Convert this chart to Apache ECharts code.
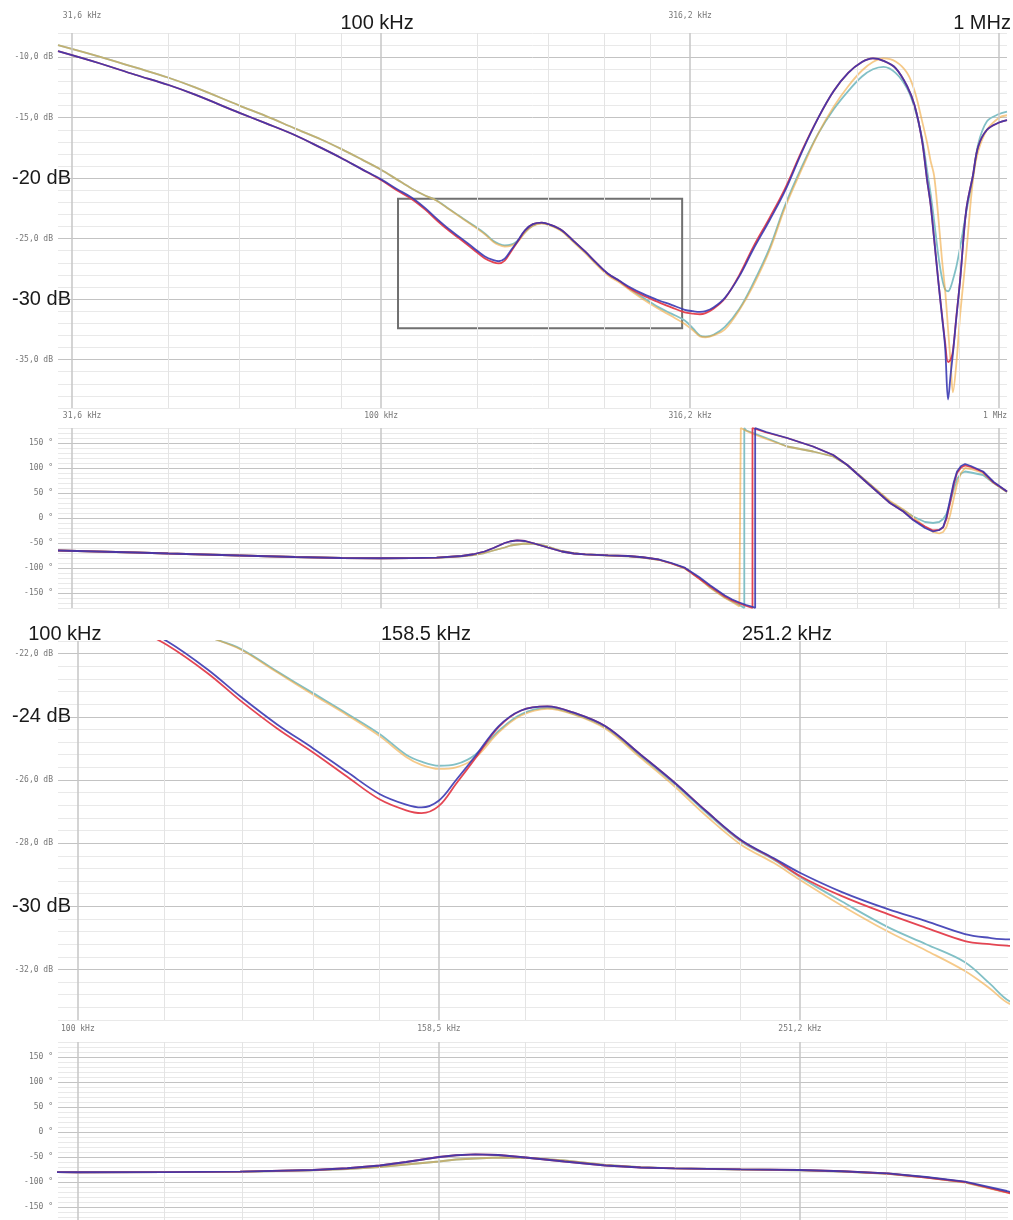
<!DOCTYPE html>
<html><head><meta charset="utf-8">
<script src="https://cdn.jsdelivr.net/npm/echarts@6/dist/echarts.min.js"></script>
<style>html,body{margin:0;padding:0;background:#fff}#c{width:1013px;height:1220px}</style>
</head><body><div id="c"></div>
<script>
// ---------- DATA (frequencies in kHz) ----------
const magFreq = [30, 35, 40, 45.3, 50, 59, 65, 72.6, 80, 86.3, 93, 100, 106, 112, 118, 123, 129, 135, 141, 147,
  152, 155, 158.5, 162, 166, 171, 176, 182, 188, 196, 205, 214, 223, 233, 243, 251, 265, 281, 295, 310,
  320, 328, 335, 345, 360, 380, 400, 425, 450, 480, 510, 540, 570, 600, 625, 650, 680, 710, 730, 750,
  765, 775, 785, 797, 808, 818, 827, 835, 842, 853, 865, 885, 907, 925, 956, 1000, 1030];

const magBlue = [-9.5, -10.5, -11.45, -12.3, -13.1, -14.6, -15.45, -16.45, -17.5, -18.35, -19.25, -20.1, -20.9, -21.6, -22.5, -23.35, -24.25, -25.0, -25.75, -26.45,
  -26.78, -26.87, -26.65, -26.0, -25.25, -24.3, -23.8, -23.67, -23.86, -24.3, -25.2, -26.08, -27.0, -27.9, -28.48, -28.93, -29.55, -30.09, -30.47, -30.88,
  -31.0, -31.05, -31.0, -30.7, -29.9, -28.1, -25.9, -23.5, -21.1, -17.8, -15.0, -12.8, -11.3, -10.4, -10.1, -10.3, -10.9, -12.4, -14.0, -16.8,
  -20.2, -22.2, -25.0, -28.4, -31.3, -34.0, -38.3, -36.2, -34.5, -31.5, -28.4, -22.6, -19.8, -17.4, -16.0, -15.4, -15.2];

const magRed = [-9.5, -10.5, -11.45, -12.3, -13.1, -14.6, -15.45, -16.45, -17.5, -18.35, -19.25, -20.15, -21.0, -21.72, -22.62, -23.48, -24.38, -25.13, -25.9, -26.62,
  -26.96, -27.05, -26.82, -26.12, -25.32, -24.33, -23.8, -23.67, -23.86, -24.3, -25.2, -26.08, -27.0, -27.92, -28.5, -29.03, -29.68, -30.25, -30.68, -31.1,
  -31.2, -31.25, -31.15, -30.8, -29.95, -28.0, -25.7, -23.3, -20.9, -17.7, -15.0, -12.8, -11.3, -10.4, -10.1, -10.3, -10.9, -12.4, -14.0, -16.8,
  -20.2, -22.2, -25.0, -28.4, -31.2, -33.6, -35.2, -35.0, -34.3, -31.4, -28.4, -22.6, -19.8, -17.4, -16.0, -15.4, -15.2];

const magCyan = [-9.0, -9.95, -10.85, -11.7, -12.5, -14.0, -14.85, -15.9, -16.8, -17.6, -18.45, -19.3, -20.1, -20.85, -21.45, -21.84, -22.57, -23.25, -23.9, -24.55,
  -25.2, -25.42, -25.55, -25.5, -25.2, -24.45, -23.92, -23.72, -23.9, -24.34, -25.25, -26.12, -27.05, -27.95, -28.53, -29.06, -29.85, -30.66, -31.2, -31.77,
  -32.45, -33.0, -33.1, -32.95, -32.3, -30.8, -28.7, -25.8, -22.3, -19.0, -16.3, -14.3, -12.8, -11.6, -11.0, -10.8, -11.3, -12.6, -14.2, -16.6,
  -19.4, -21.3, -23.5, -26.3, -28.2, -29.2, -29.35, -29.0, -28.4, -27.3, -25.7, -22.8, -20.0, -17.2, -15.3, -14.7, -14.5];

const magOrange = [-9.0, -9.95, -10.85, -11.7, -12.5, -14.0, -14.85, -15.9, -16.8, -17.6, -18.45, -19.3, -20.1, -20.85, -21.45, -21.86, -22.6, -23.3, -23.95, -24.62,
  -25.27, -25.52, -25.65, -25.6, -25.3, -24.5, -23.96, -23.75, -23.92, -24.38, -25.3, -26.2, -27.15, -28.05, -28.63, -29.15, -29.98, -30.8, -31.4, -32.05,
  -32.6, -33.08, -33.15, -33.0, -32.5, -30.9, -28.9, -26.0, -22.5, -19.2, -16.3, -14.1, -12.4, -11.1, -10.4, -10.1, -10.35, -11.3, -12.8, -15.2,
  -17.1, -18.6, -19.8, -23.1, -26.6, -29.3, -32.5, -35.3, -37.7, -35.3, -31.3, -26.2, -20.2, -17.8, -16.0, -15.0, -14.8];

const phaseFreq = [30, 40, 45.3, 59, 72.6, 86.3, 100, 112, 123, 135, 141, 147, 152, 158.5, 162, 166, 171, 177, 186, 196,
  205, 214, 233, 251, 265, 281, 295, 310, 327, 341, 360, 370, 380, 390, 400, 420, 454, 500, 539, 568,
  612, 666, 700, 726, 759, 782, 800, 812, 822, 833, 845, 855, 868, 881, 900, 942, 980, 1030];

const phaseBlue = [-65, -69, -71, -75, -78, -80, -80.5, -80.3, -79.3, -76, -72.5, -67, -60, -50, -46.5, -44.8, -46, -51, -59, -67,
  -71, -72.7, -74.7, -76, -78.5, -82.7, -90, -99.3, -118, -135, -155, -163, -169, -174, -178, 172, 160, 143, 126, 106,
  70, 30, 13, -4, -20, -27, -24, -18, 2, 36, 72, 93, 104, 108, 104, 93, 72, 53];

const phaseRed = [-65, -69, -71, -75, -78, -80, -80.5, -80.3, -79.3, -76, -72.5, -67, -60, -50, -46.5, -44.8, -46, -51, -59, -67,
  -71, -72.7, -74.7, -76, -78.5, -83, -91, -100, -121, -137, -157, -165, -171, -176, 178, 171, 160, 143, 126, 106,
  70, 30, 13, -3, -17, -25, -24, -19, -2, 30, 68, 90, 101, 105, 102, 92, 71, 53];

const phaseCyan = [-65, -69, -71, -75, -78, -80, -80.5, -80.3, -79.5, -76.5, -74, -70, -65, -59, -55, -53, -51, -51.5, -57, -66,
  -70.5, -72.7, -75, -76.5, -79, -83.5, -90.5, -100.5, -120, -139, -159, -167, -174, 175, 170, 160, 143, 133, 123, 106,
  72, 32, 16, 3, -8, -10, -8, -2, 8, 30, 58, 78, 89, 93, 91, 86, 70, 52];

const phaseOrange = [-65, -69, -71, -75, -78, -80, -80.5, -80.3, -79.5, -76.5, -74, -70, -65, -59, -55, -53, -51, -51.5, -57, -66,
  -70.5, -72.7, -75, -76.5, -79, -83.5, -91, -101, -121, -140, -160, -168, -177, 174, 168, 158, 143, 133, 123, 106,
  72, 34, 17, 2, -18, -28, -31, -28, -18, 5, 40, 68, 90, 100, 98, 90, 70, 52];

// frequency (kHz) where each trace wraps from -180 deg to +180 deg
const wrapOrange = 382, wrapCyan = 387, wrapRed = 399, wrapBlue = 403;

// zoom rectangle on the wide magnitude plot: [f1, f2, dB1, dB2]
const zoomBox = [106.5, 307, -21.7, -32.4];

// ticks and labels
const wideTicks = [31.623, 100, 316.23, 1000];
const wideTickLabels = ['31,6 kHz', '100 kHz', '316,2 kHz', '1 MHz'];
const wideMajorGrid = [10, 31.623, 100, 316.23, 1000, 3162.3];
const zoomTicks = [100, 158.49, 251.19];
const zoomTickLabels = ['100 kHz', '158,5 kHz', '251,2 kHz'];
const zoomBigLabels = ['100 kHz', '158.5 kHz', '251.2 kHz'];
const zoomMajorGrid = [63.096, 100, 158.49, 251.19, 398.11, 630.96];
const magWideSmall = [-10, -15, -25, -35];
const magWideBig = [-20, -30];
const magZoomSmall = [-22, -26, -28, -32];
const magZoomBig = [-24, -30];
const phaseTicks = [150, 100, 50, 0, -50, -100, -150];

// ---------- BUILD ----------
const C = {orange: '#f0a436', cyan: '#82c0c6', red: '#e33c4a', blue: '#3634b0'};
const OP = {orange: 0.58, cyan: 1, red: 0.95, blue: 0.88};
const MONO = 'DejaVu Sans Mono';
const SANS = 'Liberation Sans';
const GRID_MINOR = '#e9e9e9', GRID_MAJOR = '#c3c3c3';

function pairs(fs, vs) { return fs.map((f, i) => [f, vs[i]]); }
function phasePairs(vs, wf) {
  const out = []; let done = false;
  for (let i = 0; i < phaseFreq.length; i++) {
    if (!done && phaseFreq[i] > wf) { out.push([wf, -180], [wf, 180]); done = true; }
    out.push([phaseFreq[i], vs[i]]);
  }
  return out;
}
function minorLines(majors, lo, hi) {
  const res = [];
  for (let i = 0; i < majors.length - 1; i++) {
    const a = majors[i], b = majors[i + 1];
    for (let k = 1; k < 5; k++) { const v = a + k * (b - a) / 5; if (v > lo && v < hi) res.push({v, major: false}); }
    if (i > 0 && a > lo && a < hi) res.push({v: a, major: true});
  }
  return res;
}
function near(a, b) { return Math.abs(Math.log(a / b)) < 1e-3; }

const WMIN = 30, WMAX = 1030, ZMIN = 97.5, ZMAX = 327.5;

function xLab(ticks, texts, styles) {
  return v => { for (let i = 0; i < ticks.length; i++) if (near(v, ticks[i])) return '{' + styles[i] + '|' + texts[i] + '}'; return ''; };
}
const smallRich = {
  s: {fontFamily: MONO, fontSize: 8, color: '#777'},
  sR10: {fontFamily: MONO, fontSize: 8, color: '#777', padding: [0, 0, 0, 20]},
  sL4: {fontFamily: MONO, fontSize: 8, color: '#777', padding: [0, 8, 0, 0]}
};
const bigRich = {
  bL4: {fontFamily: SANS, fontSize: 20, color: '#1a1a1a', padding: [0, 8, 0, 0]},
  bL17: {fontFamily: SANS, fontSize: 20, color: '#1a1a1a', padding: [0, 34, 0, 0]},
  bL13: {fontFamily: SANS, fontSize: 20, color: '#1a1a1a', padding: [0, 26, 0, 0]}
};

function xAxisBase(grid, min, max) {
  return {type: 'log', gridIndex: grid, position: 'top', min, max,
    axisLine: {show: false}, axisTick: {show: false}, splitLine: {show: false}};
}
const xAxes = [
  Object.assign(xAxisBase(0, WMIN, WMAX), {axisLabel: {customValues: [wideTicks[0], wideTicks[2]], margin: 13, rich: smallRich,
    formatter: xLab(wideTicks, wideTickLabels, ['sR10', 's', 's', 's'])}}),
  Object.assign(xAxisBase(0, WMIN, WMAX), {axisLabel: {customValues: [wideTicks[1], wideTicks[3]], margin: 0, rich: bigRich,
    formatter: xLab(wideTicks, wideTickLabels, ['bL4', 'bL4', 'bL4', 'bL17'])}}),
  Object.assign(xAxisBase(1, WMIN, WMAX), {axisLabel: {customValues: wideTicks, margin: 8, rich: smallRich,
    formatter: xLab(wideTicks, wideTickLabels, ['sR10', 's', 's', 'sL4'])}}),
  Object.assign(xAxisBase(2, ZMIN, ZMAX), {axisLabel: {customValues: zoomTicks, margin: -3, rich: bigRich,
    formatter: xLab(zoomTicks, zoomBigLabels, ['bL13', 'bL13', 'bL13'])}}),
  Object.assign(xAxisBase(3, ZMIN, ZMAX), {axisLabel: {customValues: zoomTicks, margin: 9, rich: smallRich,
    formatter: xLab(zoomTicks, zoomTickLabels, ['s', 's', 's'])}})
];

function yAxisMain(grid, min, max, interval, colors, labels, fmt) {
  return {type: 'value', gridIndex: grid, position: 'left', min, max, interval,
    axisLine: {show: false}, axisTick: {show: false},
    splitLine: {show: true, lineStyle: {color: colors, width: 1}},
    axisLabel: {customValues: labels, formatter: fmt, margin: 5, fontFamily: MONO, fontSize: 8, color: '#777'}};
}
function yAxisBig(grid, min, max, labels) {
  return {type: 'value', gridIndex: grid, position: 'left', min, max,
    axisLine: {show: false}, axisTick: {show: false}, splitLine: {show: false},
    axisLabel: {customValues: labels, formatter: v => v + ' dB', margin: -13, fontFamily: SANS, fontSize: 20, color: '#1a1a1a'}};
}
const m = GRID_MINOR, M = GRID_MAJOR;
const dbFmt = v => v.toFixed(1).replace('.', ',') + ' dB';
const degFmt = v => v + ' °';
const yAxes = [
  yAxisMain(0, -39, -8, 1, [m, m, m, m, M], magWideSmall, dbFmt),
  yAxisBig(0, -39, -8, magWideBig),
  yAxisMain(1, -180, 180, 10, [m, m, m, M, m], phaseTicks, degFmt),
  yAxisMain(2, -33.6, -21.6, 0.4, [m, m, m, m, M], magZoomSmall, dbFmt),
  yAxisBig(2, -33.6, -21.6, magZoomBig),
  yAxisMain(3, -180, 180, 10, [m, m, m, M, m], phaseTicks, degFmt)
];

function gridHelper(xi, yi, majors, lo, hi, extra) {
  const lines = minorLines(majors, lo, hi).map(o => ({xAxis: o.v,
    lineStyle: {color: o.major ? '#c6c6c6' : '#e4e4e4', width: o.major ? 1.5 : 1, type: 'solid'}}));
  return Object.assign({type: 'line', xAxisIndex: xi, yAxisIndex: yi, data: [], silent: true, z: 1,
    markLine: {silent: true, symbol: ['none', 'none'], label: {show: false}, emphasis: {disabled: true}, animation: false, data: lines}}, extra || {});
}

function trace(color, op, data, xi, yi, smooth, z) {
  return {type: 'line', xAxisIndex: xi, yAxisIndex: yi, data, symbol: 'none', showSymbol: false,
    smooth: smooth, clip: true, z: z, silent: true, animation: false,
    lineStyle: {color, width: 1.8, opacity: op}, emphasis: {disabled: true}};
}

const series = [
  gridHelper(0, 0, wideMajorGrid, WMIN, WMAX, {
    markArea: {silent: true, label: {show: false}, itemStyle: {color: 'rgba(0,0,0,0)', borderColor: '#707070', borderWidth: 2},
      data: [[{coord: [zoomBox[0], zoomBox[2]]}, {coord: [zoomBox[1], zoomBox[3]]}]]}
  }),
  gridHelper(2, 2, wideMajorGrid, WMIN, WMAX),
  gridHelper(3, 3, zoomMajorGrid, ZMIN, ZMAX),
  gridHelper(4, 5, zoomMajorGrid, ZMIN, ZMAX)
];
const magSets = [['cyan', magCyan], ['orange', magOrange], ['red', magRed], ['blue', magBlue]];
const phSets = [['cyan', phaseCyan, wrapCyan], ['orange', phaseOrange, wrapOrange], ['red', phaseRed, wrapRed], ['blue', phaseBlue, wrapBlue]];
magSets.forEach((s, i) => {
  series.push(trace(C[s[0]], OP[s[0]], pairs(magFreq, s[1]), 0, 0, 0.35, 3 + i));
  series.push(trace(C[s[0]], OP[s[0]], pairs(magFreq, s[1]), 3, 3, 0.35, 3 + i));
});
phSets.forEach((s, i) => {
  series.push(trace(C[s[0]], OP[s[0]], phasePairs(s[1], s[2]), 2, 2, false, 3 + i));
  series.push(trace(C[s[0]], OP[s[0]], phasePairs(s[1], s[2]), 4, 5, false, 3 + i));
});

const chart = echarts.init(document.getElementById('c'), null, {renderer: 'canvas'});
chart.setOption({
  backgroundColor: '#ffffff',
  animation: false,
  grid: [
    {left: 58, top: 33, width: 949, height: 375, outerBoundsMode: 'none'},
    {left: 58, top: 428, width: 949, height: 180, outerBoundsMode: 'none'},
    {left: 58, top: 641, width: 950, height: 379, outerBoundsMode: 'none'},
    {left: 58, top: 1042, width: 950, height: 180, outerBoundsMode: 'none'}
  ],
  xAxis: xAxes,
  yAxis: yAxes,
  series
});
</script></body></html>
